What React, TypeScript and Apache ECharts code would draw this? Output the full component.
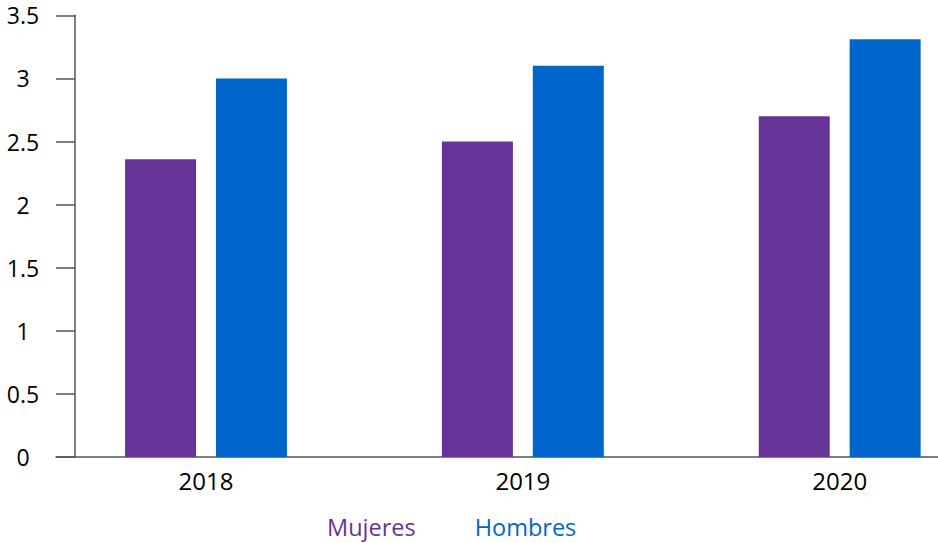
import React, { useEffect, useRef } from "react";
import * as echarts from "echarts";

const categories = ["2018", "2019", "2020"];
const mujeres = [2.36, 2.5, 2.7];
const hombres = [3.0, 3.1, 3.31];
const seriesNames = ["Mujeres", "Hombres"];
const colors = ["#663399", "#0066CC"];

const FONT = "'Open Sans', 'Noto Sans', sans-serif";

export default function App() {
  const ref = useRef<HTMLDivElement>(null);
  useEffect(() => {
    if (!ref.current) return;
    const chart = echarts.init(ref.current, undefined, { renderer: "svg" });
    chart.setOption({
      animation: false,
      backgroundColor: "#ffffff",
      textStyle: { fontFamily: FONT },
      legend: {
        left: 322,
        top: 515,
        itemWidth: 0,
        itemHeight: 0,
        itemGap: 54,
        padding: 0,
        selectedMode: false,
        data: seriesNames.map((n, i) => ({
          name: n,
          icon: "none",
          textStyle: { color: colors[i], fontSize: 23.5, lineHeight: 24, fontFamily: FONT },
        })),
      },
      grid: [
        { left: 47.6, width: 950.5, top: 15.3, bottom: 86, containLabel: false },
        { left: 56, width: 882, top: 15.3, bottom: 86, containLabel: false },
      ],
      xAxis: [
        {
          type: "category",
          gridIndex: 0,
          data: categories,
          axisLine: { show: false },
          axisTick: { show: false },
          axisLabel: { color: "#000", fontSize: 24, margin: 11, fontFamily: FONT },
        },
        {
          type: "value",
          gridIndex: 1,
          min: 0,
          max: 1,
          axisLine: { show: true, lineStyle: { color: "#555", width: 1.5 } },
          axisTick: { show: false },
          axisLabel: { show: false },
          splitLine: { show: false },
        },
      ],
      yAxis: [
        {
          type: "value",
          gridIndex: 0,
          min: 0,
          max: 3.5,
          interval: 0.5,
          offset: -27.4,
          axisLine: { show: true, lineStyle: { color: "#555", width: 1.5 } },
          axisTick: { show: true, inside: false, length: 19, lineStyle: { color: "#555", width: 1.5 } },
          axisLabel: { color: "#000", fontSize: 23, margin: 52, align: "center", fontFamily: FONT },
          splitLine: { show: false },
        },
        {
          type: "value",
          gridIndex: 1,
          show: false,
        },
      ],
      series: [
        {
          name: seriesNames[0],
          type: "bar",
          xAxisIndex: 0,
          yAxisIndex: 0,
          data: mujeres,
          barWidth: 71,
          barGap: "28%",
          itemStyle: { color: colors[0] },
        },
        {
          name: seriesNames[1],
          type: "bar",
          xAxisIndex: 0,
          yAxisIndex: 0,
          data: hombres,
          barWidth: 71,
          barGap: "28%",
          itemStyle: { color: colors[1] },
        },
      ],
    });
    return () => chart.dispose();
  }, []);
  return (
    <div
      style={{
        position: "fixed",
        left: 0,
        top: 0,
        width: 938,
        height: 543,
        overflow: "hidden",
        background: "#fff",
      }}
    >
      <div ref={ref} style={{ width: 1000, height: 543 }} />
    </div>
  );
}
